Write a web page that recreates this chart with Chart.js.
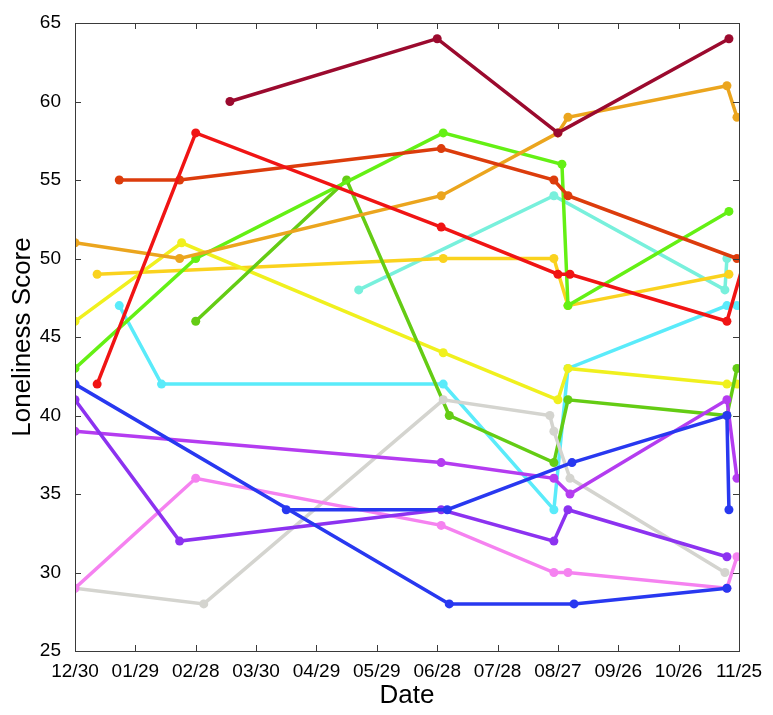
<!DOCTYPE html>
<html>
<head>
<meta charset="utf-8">
<script src="https://cdn.jsdelivr.net/npm/chart.js@4/dist/chart.umd.min.js"></script>
<style>
  html, body { margin: 0; padding: 0; background: #fff; }
  canvas { display: block; }
</style>
</head>
<body>
<canvas id="lonelyChart" width="773" height="715"></canvas>
<script>
// x = days since 12/30, one tick every 30 days
var dateLabels = ['12/30', '01/29', '02/28', '03/30', '04/29', '05/29', '06/28', '07/28', '08/27', '09/26', '10/26', '11/25'];

var maroonDays = [77, 180, 240, 325];
var maroonScores = [60, 64, 58, 64];
var orangeDays = [0, 52, 182, 240, 245, 324, 329];
var orangeScores = [51, 50, 54, 58, 59, 61, 59];
var rustDays = [22, 52, 182, 238, 245, 329];
var rustScores = [55, 55, 57, 55, 54, 50];
var redDays = [11, 60, 182, 240, 246, 324, 333];
var redScores = [42, 58, 52, 49, 49, 46, 50];
var limeDays = [0, 60, 183, 242, 245, 325];
var limeScores = [43, 50, 58, 56, 47, 53];
var greenDays = [60, 135, 186, 238, 245, 324, 329];
var greenScores = [46, 55, 40, 37, 41, 40, 43];
var yellowDays = [0, 53, 183, 240, 245, 324, 329];
var yellowScores = [46, 51, 44, 41, 43, 42, 42];
var goldDays = [11, 183, 238, 245, 325];
var goldScores = [49, 50, 50, 47, 49];
var cyanDays = [22, 43, 183, 238, 245, 324, 329];
var cyanScores = [47, 42, 42, 34, 43, 47, 47];
var aquaDays = [141, 238, 323, 324];
var aquaScores = [48, 54, 48, 50];
var blueDays = [0, 186, 248, 324];
var blueScores = [42, 28, 28, 29];
var blue2Days = [105, 185, 247, 324, 325];
var blue2Scores = [34, 34, 37, 40, 34];
var violetDays = [0, 52, 182, 238, 245, 324];
var violetScores = [41, 32, 34, 32, 34, 31];
var purpleDays = [0, 182, 238, 246, 324, 329];
var purpleScores = [39, 37, 36, 35, 41, 36];
var pinkDays = [0, 60, 182, 238, 245, 324, 329];
var pinkScores = [29, 36, 33, 30, 30, 29, 31];
var greyDays = [0, 64, 183, 236, 238, 246, 323];
var greyScores = [29, 28, 41, 40, 39, 36, 30];

function toPoints(days, scores) {
	return days.map(function (d, i) { return { x: d, y: scores[i] }; });
}

function series(days, scores, colour, extra) {
	var ds = {
		data: toPoints(days, scores),
		borderColor: colour,
		backgroundColor: colour,
		pointBackgroundColor: colour,
		pointBorderColor: colour,
		borderWidth: 3.5,
		pointRadius: 4.5,
		pointBorderWidth: 0,
		tension: 0
	};
	return Object.assign(ds, extra || {});
}

// MATLAB style box with inward ticks
var boxTicks = {
	id: 'boxTicks',
	afterDatasetsDraw: function (chart) {
		var ctx = chart.ctx, a = chart.chartArea;
		var xs = chart.scales.x, ys = chart.scales.y;
		var len = 6;
		ctx.save();
		ctx.strokeStyle = '#3a3a3a';
		ctx.lineWidth = 1;
		ctx.strokeRect(Math.round(a.left) + 0.5, Math.round(a.top) + 0.5, Math.round(a.right - a.left), Math.round(a.bottom - a.top));
		ctx.beginPath();
		xs.ticks.forEach(function (t) {
			var px = Math.round(xs.getPixelForValue(t.value)) + 0.5;
			ctx.moveTo(px, a.bottom); ctx.lineTo(px, a.bottom - len);
			ctx.moveTo(px, a.top); ctx.lineTo(px, a.top + len);
		});
		ys.ticks.forEach(function (t) {
			var py = Math.round(ys.getPixelForValue(t.value)) + 0.5;
			ctx.moveTo(a.left, py); ctx.lineTo(a.left + len, py);
			ctx.moveTo(a.right, py); ctx.lineTo(a.right - len, py);
		});
		ctx.stroke();
		ctx.restore();
	}
};

var tickFont = { family: '"Liberation Sans", Arial, sans-serif', size: 19 };
var titleFont = { family: '"Liberation Sans", Arial, sans-serif', size: 26 };

new Chart(document.getElementById('lonelyChart').getContext('2d'), {
	type: 'line',
	data: {
		datasets: [
			series(blueDays, blueScores, '#2838f0'),
			series(blue2Days, blue2Scores, '#2838f0'),
			series(violetDays, violetScores, '#8c32f0'),
			series(purpleDays, purpleScores, '#b43cf0'),
			series(pinkDays, pinkScores, '#f582f0'),
			series(greyDays, greyScores, '#d4d4cf'),
			series(redDays, redScores, '#f01414', { clip: 0 }),
			series(maroonDays, maroonScores, '#9b0a2e'),
			series(rustDays, rustScores, '#dc3c0c'),
			series(orangeDays, orangeScores, '#eba51e'),
			series(limeDays, limeScores, '#64f014'),
			series(greenDays, greenScores, '#64cc14'),
			series(yellowDays, yellowScores, '#f0f01e'),
			series(goldDays, goldScores, '#fad21e'),
			series(cyanDays, cyanScores, '#5aebfa'),
			series(aquaDays, aquaScores, '#78f0dc')
		]
	},
	options: {
		responsive: false,
		animation: false,
		devicePixelRatio: 1,
		layout: { padding: { top: 23, right: 34, bottom: 0, left: 0 } },
		plugins: { legend: { display: false }, tooltip: { enabled: false } },
		scales: {
			x: {
				type: 'linear',
				min: 0,
				max: 330,
				grid: { display: false },
				border: { display: false },
				ticks: {
					stepSize: 30,
					autoSkip: false,
					maxRotation: 0,
					padding: 1,
					color: '#000',
					font: tickFont,
					callback: function (v) { return dateLabels[Math.round(v / 30)]; }
				},
				title: { display: true, text: 'Date', color: '#000', font: titleFont, padding: { top: 0, bottom: 4 } },
				afterFit: function (s) { s.height = 64; }
			},
			y: {
				min: 25,
				max: 65,
				grid: { display: false },
				border: { display: false },
				ticks: { stepSize: 5, padding: 6, color: '#000', font: tickFont },
				title: { display: true, text: 'Loneliness Score', color: '#000', font: titleFont, padding: { top: 7, bottom: 0 } },
				afterFit: function (s) { s.width = 75; }
			}
		}
	},
	plugins: [boxTicks]
});
</script>
</body>
</html>
